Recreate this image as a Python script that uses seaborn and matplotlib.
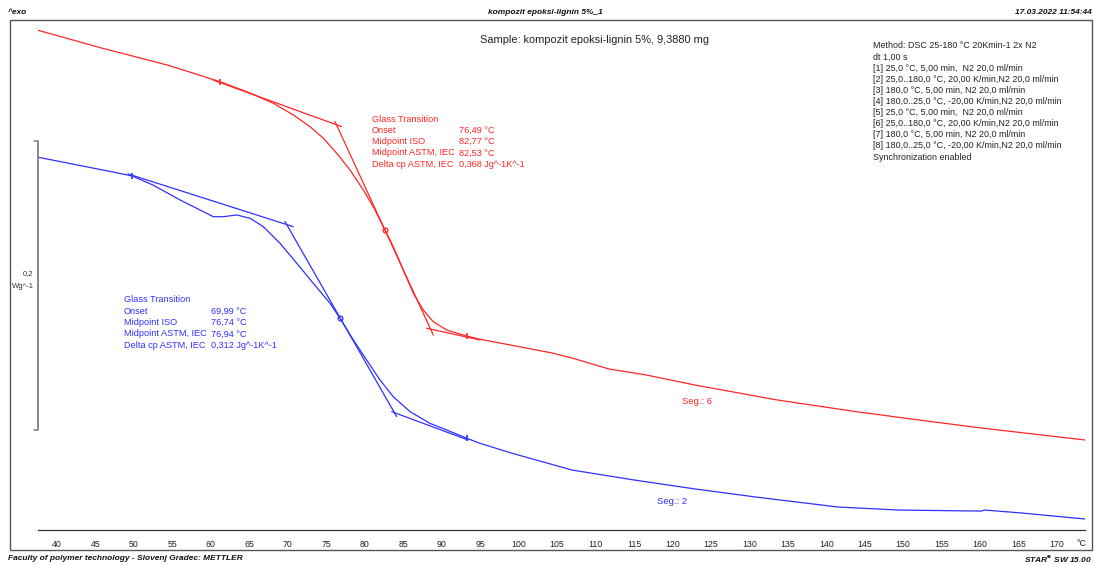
import numpy as np
import pandas as pd
import matplotlib
matplotlib.use("Agg")
import matplotlib.pyplot as plt
import matplotlib.transforms as mtransforms
from matplotlib.patches import Rectangle
import seaborn as sns

# ---------------- data ----------------
# Seg. 6 (red), temperature in degC, heat flow in W/g (arbitrary offset)
red_T = [37.40, 45.59, 54.30, 55.99, 61.19, 64.66, 68.12, 70.72, 72.89, 74.62,
         76.36, 78.09, 79.82, 81.12, 82.42, 83.72, 85.02, 86.32, 87.62, 88.92,
         90.66, 93.26, 94.99, 97.59, 104.35, 106.95, 111.76, 116.57, 122.94, 133.60,
         144.13, 152.06, 160.12, 173.64]
red_hf = [0.3460, 0.3338, 0.3218, 0.3190, 0.3102, 0.3033, 0.2953, 0.2872, 0.2791, 0.2711,
          0.2607, 0.2491, 0.2353, 0.2237, 0.2099, 0.1960, 0.1799, 0.1638, 0.1522, 0.1441,
          0.1384, 0.1342, 0.1320, 0.1294, 0.1225, 0.1190, 0.1114, 0.1073, 0.1003, 0.0900,
          0.0817, 0.0761, 0.0706, 0.0623]

# Seg. 2 (blue)
blue_T = [37.40, 47.28, 49.75, 52.48, 55.99, 58.16, 60.32, 61.62, 63.36, 65.09,
          66.82, 68.99, 71.16, 73.32, 75.49, 76.79, 78.52, 80.26, 81.99, 83.72,
          85.89, 88.49, 90.66, 93.26, 94.99, 99.02, 106.95, 115.01, 122.94, 130.87,
          141.53, 149.46, 160.12, 160.64, 165.32, 173.64]
blue_hf = [0.2581, 0.2477, 0.2450, 0.2387, 0.2284, 0.2226, 0.2168, 0.2168, 0.2180, 0.2157,
           0.2099, 0.1984, 0.1846, 0.1707, 0.1569, 0.1465, 0.1315, 0.1176, 0.1038, 0.0922,
           0.0819, 0.0738, 0.0692, 0.0635, 0.0600, 0.0533, 0.0415, 0.0346, 0.0284, 0.0228,
           0.0159, 0.0138, 0.0131, 0.0138, 0.0118, 0.0076]

# glass-transition evaluation tangents: (T1, hf1, T2, hf2)
red_tangents = [(60.28, 0.3114, 77.01, 0.2791),
                (76.14, 0.2826, 88.92, 0.1349),
                (88.06, 0.1396, 94.99, 0.1315)]
blue_tangents = [(49.23, 0.2464, 70.72, 0.2099),
                 (69.64, 0.2134, 84.16, 0.0784),
                 (83.51, 0.0819, 93.43, 0.0623)]
# evaluation limits and midpoint markers
red_limits_T = [61.19, 93.26]
red_limits_hf = [0.3102, 0.1342]
red_mid = (82.64, 0.2076)
blue_limits_T = [49.75, 93.26]
blue_limits_hf = [0.2450, 0.0635]
blue_mid = (76.79, 0.1465)

red_results = [("Glass Transition", ""), ("Onset", "76,49 °C"), ("Midpoint ISO", "82,77 °C"),
               ("Midpoint ASTM, IEC", "82,53 °C"), ("Delta cp ASTM, IEC", "0,368 Jg^-1K^-1")]
blue_results = [("Glass Transition", ""), ("Onset", "69,99 °C"), ("Midpoint ISO", "76,74 °C"),
                ("Midpoint ASTM, IEC", "76,94 °C"), ("Delta cp ASTM, IEC", "0,312 Jg^-1K^-1")]
method_lines = ["Method: DSC 25-180 °C 20Kmin-1 2x N2",
                "dt 1,00 s",
                "[1] 25,0 °C, 5,00 min,  N2 20,0 ml/min",
                "[2] 25,0..180,0 °C, 20,00 K/min,N2 20,0 ml/min",
                "[3] 180,0 °C, 5,00 min, N2 20,0 ml/min",
                "[4] 180,0..25,0 °C, -20,00 K/min,N2 20,0 ml/min",
                "[5] 25,0 °C, 5,00 min,  N2 20,0 ml/min",
                "[6] 25,0..180,0 °C, 20,00 K/min,N2 20,0 ml/min",
                "[7] 180,0 °C, 5,00 min, N2 20,0 ml/min",
                "[8] 180,0..25,0 °C, -20,00 K/min,N2 20,0 ml/min",
                "Synchronization enabled"]
x_ticks = list(range(40, 171, 5))
scale_bar = 0.2
scale_bar_bottom = 0.0692

RED = "#ff2626"
BLUE = "#3030ff"

# ---------------- figure ----------------
sns.set_style("white")
plt.rcParams["font.family"] = ["Liberation Sans", "DejaVu Sans"]

W, H = 1094, 565
fig = plt.figure(figsize=(W / 100, H / 100), dpi=100)

def fx(px):
    return px / W

def fy(py):
    return 1 - py / H

ax = fig.add_axes([fx(38), fy(530), fx(1085) - fx(38), fy(20) - fy(530)])
ax.set_facecolor("none")

df_red = pd.DataFrame({"T": red_T, "hf": red_hf})
df_blue = pd.DataFrame({"T": blue_T, "hf": blue_hf})
sns.lineplot(data=df_red, x="T", y="hf", sort=False, estimator=None, color=RED, lw=0.9, ax=ax)
sns.lineplot(data=df_blue, x="T", y="hf", sort=False, estimator=None, color=BLUE, lw=0.9, ax=ax)

for (t1, h1, t2, h2) in red_tangents:
    ax.plot([t1, t2], [h1, h2], color=RED, lw=0.9)
for (t1, h1, t2, h2) in blue_tangents:
    ax.plot([t1, t2], [h1, h2], color=BLUE, lw=0.9)

ax.plot(red_limits_T, red_limits_hf, ls="none", marker="|", ms=5, mew=1.2, color=RED)
ax.plot(blue_limits_T, blue_limits_hf, ls="none", marker="|", ms=5, mew=1.2, color=BLUE)
ax.plot([red_mid[0]], [red_mid[1]], ls="none", marker="o", ms=3.5, mfc="none", mew=0.9, color=RED)
ax.plot([blue_mid[0]], [blue_mid[1]], ls="none", marker="o", ms=3.5, mfc="none", mew=0.9, color=BLUE)

ax.set_xlim(37.53, 173.64)
ax.set_ylim(0, 0.3529)
ax.set_xlabel("")
ax.set_ylabel("")
ax.set_yticks([])
ax.set_xticks(x_ticks)
ax.set_xticklabels([str(t) for t in x_ticks], fontsize=6.3, color="#222222")
ax.set_xticks(np.arange(38, 174, 1), minor=True)
ax.tick_params(axis="x", which="major", direction="in", length=4, width=0.8, pad=7, colors="#333333")
ax.tick_params(axis="x", which="minor", direction="in", length=2.5, width=0.6, colors="#333333")
ax.tick_params(axis="x", labelcolor="#222222")
for s in ["top", "left", "right"]:
    ax.spines[s].set_visible(False)
ax.spines["bottom"].set_color("#333333")
ax.spines["bottom"].set_linewidth(0.9)
fig.text(fx(1081), fy(543), "°C", ha="center", va="center", fontsize=6.3, color="#222222")

# scale bar (bracket)
btr = mtransforms.blended_transform_factory(ax.transAxes, ax.transData)
tick_w = 4 / (1085 - 38)
ax.plot([0, 0], [scale_bar_bottom, scale_bar_bottom + scale_bar], transform=btr,
        color="#808080", lw=1.3, clip_on=False, solid_capstyle="butt")
for yv in (scale_bar_bottom, scale_bar_bottom + scale_bar):
    ax.plot([-tick_w, 0], [yv, yv], transform=btr, color="#808080", lw=1.1, clip_on=False)
fig.text(fx(33), fy(274), "0,2", ha="right", va="center", fontsize=5.5, color="#333333")
fig.text(fx(34), fy(286), "Wg^-1", ha="right", va="center", fontsize=5.5, color="#333333")

# frame
fig.add_artist(Rectangle((fx(10), fy(550)), fx(1092) - fx(10), fy(20) - fy(550),
                         transform=fig.transFigure, fill=False, edgecolor="#555555", lw=1.0))

# header / footer
hdr = dict(fontsize=6.0, fontweight="bold", fontstyle="italic", color="#111111",
           family=["Liberation Sans Narrow", "Liberation Sans", "DejaVu Sans"], va="center")
fig.text(fx(8), fy(12), "^exo", ha="left", **hdr)
fig.text(fx(545), fy(12), "kompozit epoksi-lignin 5%_1", ha="center", **hdr)
fig.text(fx(1092), fy(12), "17.03.2022 11:54:44", ha="right", **hdr)
fig.text(fx(8), fy(559), "Faculty of polymer technology - Slovenj Gradec: METTLER", ha="left", **hdr)
fig.text(fx(1092), fy(559), r"STAR$^\mathbf{e}$ SW 15.00", ha="right", **hdr)

# sample title
fig.text(fx(595), fy(40), "Sample: kompozit epoksi-lignin 5%, 9,3880 mg", ha="center", va="center",
         fontsize=7.9, color="#222222")

# method block
for i, line in enumerate(method_lines):
    fig.text(fx(873), fy(46 + i * 11.1), line, ha="left", va="center", fontsize=6.4, color="#222222")

# results
for i, (lab, val) in enumerate(red_results):
    y = fy(119 + i * 11.3)
    fig.text(fx(372), y, lab, ha="left", va="center", fontsize=6.6, color=RED)
    if val:
        fig.text(fx(459), y, val, ha="left", va="center", fontsize=6.6, color=RED)
for i, (lab, val) in enumerate(blue_results):
    y = fy(300 + i * 11.3)
    fig.text(fx(124), y, lab, ha="left", va="center", fontsize=6.6, color=BLUE)
    if val:
        fig.text(fx(211), y, val, ha="left", va="center", fontsize=6.6, color=BLUE)

fig.text(fx(697), fy(401), "Seg.: 6", ha="center", va="center", fontsize=6.8, color=RED)
fig.text(fx(672), fy(501), "Seg.: 2", ha="center", va="center", fontsize=6.8, color=BLUE)

fig.savefig("out.png", dpi=100)
